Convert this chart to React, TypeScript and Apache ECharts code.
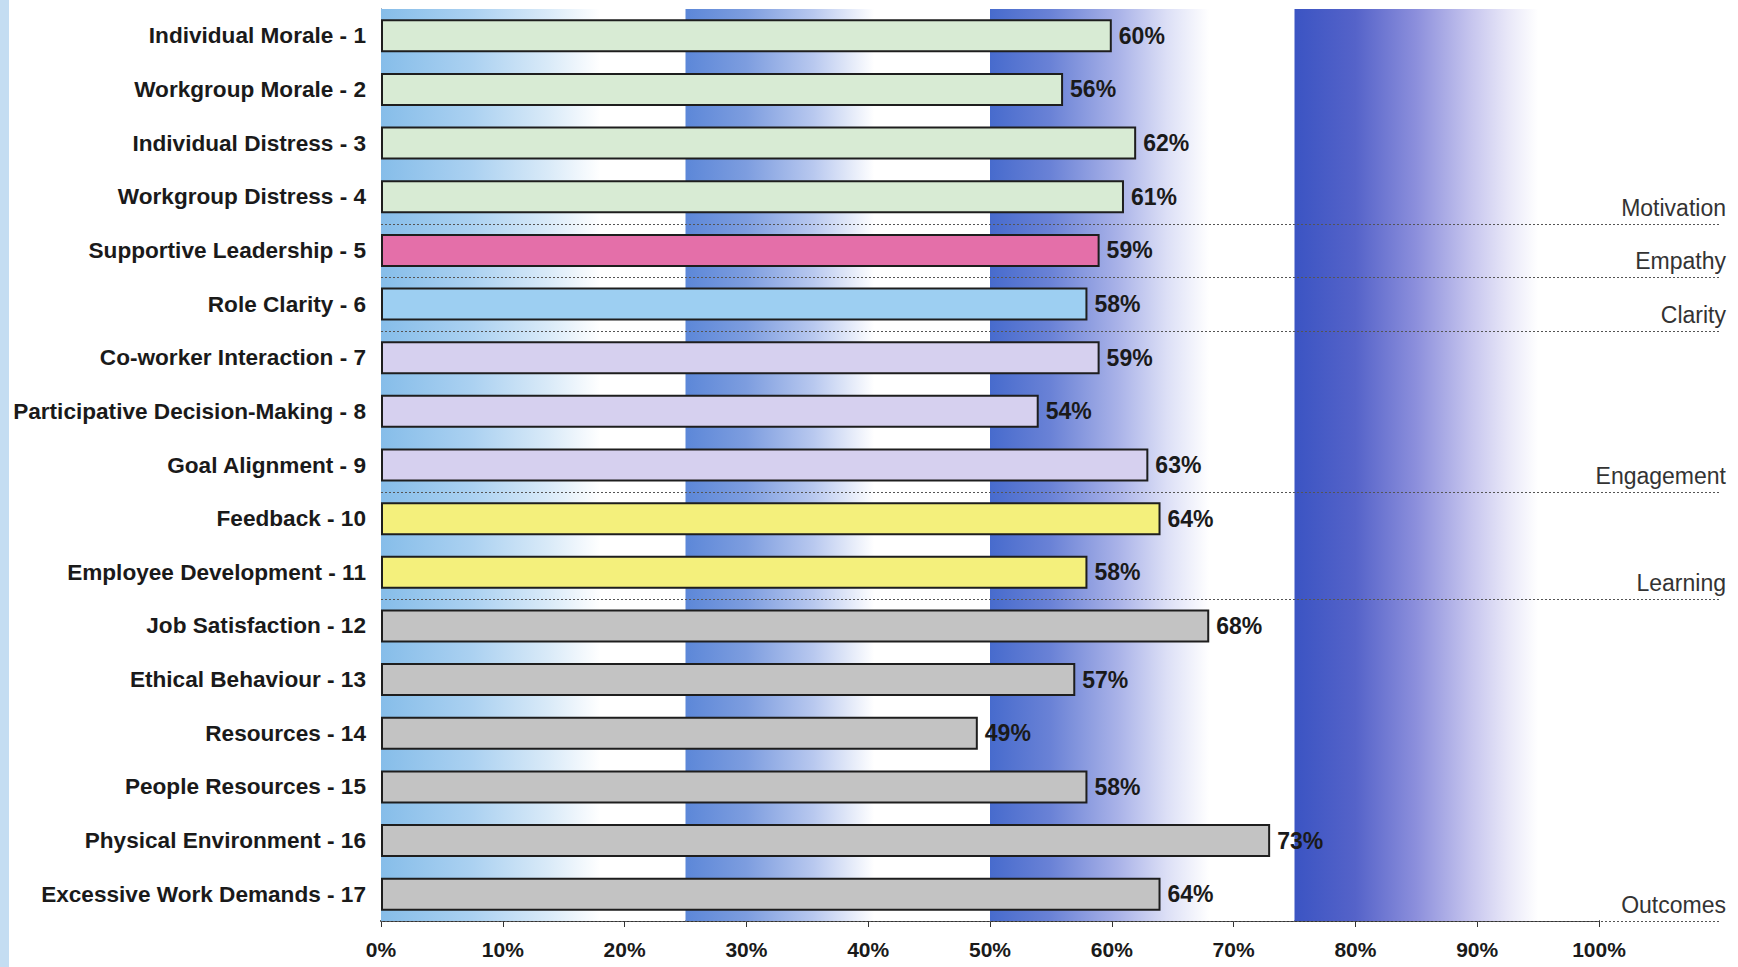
import React, { useEffect, useRef } from "react";
import * as echarts from "echarts";

// Survey dimensions, top to bottom
const categories = [
  "Individual Morale - 1",
  "Workgroup Morale - 2",
  "Individual Distress - 3",
  "Workgroup Distress - 4",
  "Supportive Leadership - 5",
  "Role Clarity - 6",
  "Co-worker Interaction - 7",
  "Participative Decision-Making - 8",
  "Goal Alignment - 9",
  "Feedback - 10",
  "Employee Development - 11",
  "Job Satisfaction - 12",
  "Ethical Behaviour - 13",
  "Resources - 14",
  "People Resources - 15",
  "Physical Environment - 16",
  "Excessive Work Demands - 17",
];

// Score for each dimension (%)
const values = [60, 56, 62, 61, 59, 58, 59, 54, 63, 64, 58, 68, 57, 49, 58, 73, 64];

// Group each dimension belongs to, and the colour of that group
const groupNames = ["Motivation", "Empathy", "Clarity", "Engagement", "Learning", "Outcomes"];
const groupLastIndex = [3, 4, 5, 8, 10, 16];
const groupColors = ["#d8ebd4", "#e46fa9", "#9dcff2", "#d6d0ef", "#f4f07c", "#c3c3c3"];

// Shaded quarter bands behind the bars
const bandEdges = [0, 25, 50, 75, 100];
const bandStops = [
  [[0, "#86bde9"], [0.3, "#abd1f1"], [0.55, "#d9eaf8"], [0.72, "#ffffff"], [1, "#ffffff"]],
  [[0, "#5c87d8"], [0.2, "#7d9ddf"], [0.42, "#b8c8ef"], [0.62, "#ffffff"], [1, "#ffffff"]],
  [[0, "#476bcd"], [0.2, "#6a82d6"], [0.42, "#a9b2e8"], [0.58, "#dcdff6"], [0.72, "#ffffff"], [1, "#ffffff"]],
  [[0, "#3b54c3"], [0.2, "#5563c9"], [0.4, "#8c8fdc"], [0.58, "#c6c5ee"], [0.7, "#e8e7f8"], [0.8, "#ffffff"], [1, "#ffffff"]],
];

const FONT = "'Liberation Sans', Arial, sans-serif";

function groupOf(i: number): number {
  for (let g = 0; g < groupLastIndex.length; g++) {
    if (i <= groupLastIndex[g]) return g;
  }
  return groupLastIndex.length - 1;
}

export default function App() {
  const ref = useRef<HTMLDivElement>(null);

  useEffect(() => {
    if (!ref.current) return;
    const chart = echarts.init(ref.current, null, { renderer: "svg" });

    const bandAreas = bandStops.map((stops, i) => [
      {
        xAxis: bandEdges[i],
        itemStyle: {
          color: new echarts.graphic.LinearGradient(
            0, 0, 1, 0,
            stops.map(([offset, color]) => ({ offset: offset as number, color: color as string }))
          ),
        },
      },
      { xAxis: bandEdges[i + 1] },
    ]);

    chart.setOption({
      animation: false,
      backgroundColor: "#ffffff",
      textStyle: { fontFamily: FONT },
      grid: { left: 381, right: 139, top: 9, bottom: 46, containLabel: false },
      xAxis: {
        type: "value",
        min: 0,
        max: 100,
        interval: 10,
        axisLabel: {
          formatter: "{value}%",
          fontSize: 21,
          fontWeight: "bold",
          color: "#1a1a1a",
          margin: 18,
          fontFamily: FONT,
        },
        axisLine: { show: true, lineStyle: { color: "#333", width: 2 } },
        axisTick: { show: true, length: 6, lineStyle: { color: "#333", width: 1 } },
        splitLine: { show: false },
      },
      yAxis: {
        type: "category",
        inverse: true,
        data: categories,
        axisLabel: {
          fontSize: 22.6,
          fontWeight: "bold",
          color: "#1a1a1a",
          margin: 15,
          fontFamily: FONT,
        },
        axisLine: { show: true, lineStyle: { color: "#3a4a70", width: 1 } },
        axisTick: { show: false },
        splitLine: { show: false },
      },
      series: [
        {
          type: "line",
          data: [],
          z: 0,
          silent: true,
          markArea: { silent: true, data: bandAreas },
        },
        {
          type: "bar",
          z: 3,
          barWidth: 33,
          data: values.map((v, i) => ({
            value: v,
            itemStyle: { color: groupColors[groupOf(i)] },
          })),
          itemStyle: { borderColor: "#1e1e1e", borderWidth: 2 },
          label: {
            show: true,
            position: "right",
            distance: 7,
            formatter: "{c}%",
            fontSize: 23,
            fontWeight: "bold",
            color: "#1a1a1a",
            fontFamily: FONT,
          },
        },
      ],
    });

    // Group separators and their names, placed from the category scale
    const yPix = (i: number) => chart.convertToPixel({ yAxisIndex: 0 }, i) as number;
    const step = yPix(1) - yPix(0);
    const x0 = chart.convertToPixel({ xAxisIndex: 0 }, 0) as number;
    const w = chart.getWidth();
    const elements: any[] = [
      {
        type: "rect",
        shape: { x: 0, y: 0, width: 9, height: chart.getHeight() },
        style: { fill: "#c4ddf2" },
        silent: true,
      },
    ];
    groupLastIndex.forEach((last, g) => {
      const y = Math.round(yPix(last) + step / 2) + 0.5;
      elements.push({
        type: "line",
        shape: { x1: x0, y1: y, x2: w - 18, y2: y },
        style: { stroke: "#555", lineWidth: 1, lineDash: [2, 2] },
        z: 2,
        silent: true,
      });
      elements.push({
        type: "text",
        x: w - 12,
        y: y - 5,
        style: {
          text: groupNames[g],
          fill: "#333",
          fontSize: 23,
          fontFamily: FONT,
          align: "right",
          verticalAlign: "bottom",
        },
        z: 4,
        silent: true,
      });
    });
    chart.setOption({ graphic: { elements } });

    return () => chart.dispose();
  }, []);

  return (
    <div
      ref={ref}
      style={{ position: "fixed", left: 0, top: 0, width: 1738, height: 967, background: "#fff" }}
    />
  );
}
